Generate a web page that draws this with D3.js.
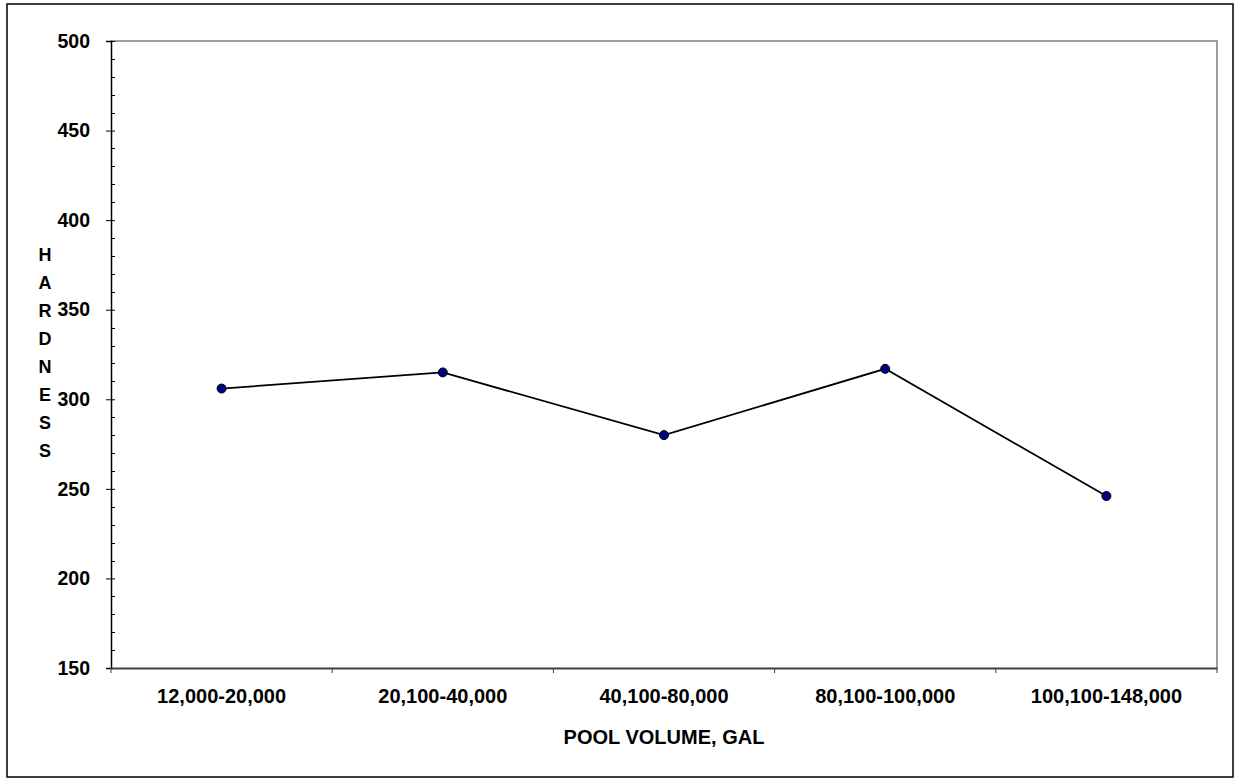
<!DOCTYPE html>
<html>
<head>
<meta charset="utf-8">
<script src="https://cdn.jsdelivr.net/npm/d3@7"></script>
<style>
html,body{margin:0;padding:0;background:#fff;}
svg{display:block;}
text{font-family:Arial,"Liberation Sans",sans-serif;font-weight:bold;fill:#000;}
</style>
</head>
<body>
<script>
const categories = ["12,000-20,000","20,100-40,000","40,100-80,000","80,100-100,000","100,100-148,000"];
const hardness = [306, 315, 280, 317, 246];
const yTicks = [150, 200, 250, 300, 350, 400, 450, 500];
const xTitle = "POOL VOLUME, GAL";
const yTitle = "HARDNESS";

const W = 1235, H = 778;
const m = {left: 111, right: 1217, top: 41, bottom: 668};

const svg = d3.select("body").append("svg").attr("width", W).attr("height", H);

// outer border
svg.append("rect").attr("x", 7).attr("y", 4).attr("width", 1226).attr("height", 773)
  .attr("fill", "#fff").attr("stroke", "#000").attr("stroke-width", 1.5);

const x = d3.scaleBand().domain(categories).range([m.left, m.right]);
const y = d3.scaleLinear().domain([150, 500]).range([m.bottom, m.top]);

// plot area top/right border
svg.append("path")
  .attr("d", `M${m.left},${m.top}H${m.right}V${m.bottom}`)
  .attr("fill", "none").attr("stroke", "#808080").attr("stroke-width", 1.5);

// minor ticks (inside)
const minor = d3.range(150, 501, 10).filter(v => v % 50 !== 0);
svg.append("g").selectAll("line").data(minor).join("line")
  .attr("x1", m.left).attr("x2", m.left + 4)
  .attr("y1", d => Math.round(y(d)) + 0.5).attr("y2", d => Math.round(y(d)) + 0.5)
  .attr("stroke", "#000").attr("stroke-width", 1);

// y axis
const yAxis = svg.append("g").attr("transform", `translate(${m.left},0)`)
  .call(d3.axisLeft(y).tickValues(yTicks).tickSize(5).tickPadding(16).tickFormat(d3.format("d")));
yAxis.select(".domain").attr("stroke", "#000").attr("stroke-width", 1.5);
yAxis.selectAll(".tick line").attr("x2", 4).attr("x1", -5).attr("stroke", "#000");
yAxis.selectAll(".tick text").attr("font-size", 19.5).attr("font-family", "Arial, 'Liberation Sans', sans-serif").attr("font-weight", "bold").attr("fill", "#000");

// x axis
const bounds = categories.map(c => x(c)).concat([m.right]);
const xAxis = svg.append("g").attr("transform", `translate(0,${m.bottom})`)
  .call(d3.axisBottom(x).tickSize(0).tickPadding(21));
xAxis.select(".domain").attr("stroke", "#404040").attr("stroke-width", 2);
xAxis.selectAll(".tick text").attr("font-size", 20).attr("font-family", "Arial, 'Liberation Sans', sans-serif").attr("font-weight", "bold").attr("fill", "#000");
svg.append("g").selectAll("line").data(bounds).join("line")
  .attr("x1", d => d).attr("x2", d => d).attr("y1", m.bottom).attr("y2", m.bottom + 5)
  .attr("stroke", "#404040").attr("stroke-width", 1);

// x title
svg.append("text").attr("x", (m.left + m.right) / 2).attr("y", 744)
  .attr("text-anchor", "middle").attr("font-size", 20).text(xTitle);

// y title stacked letters
svg.append("g").selectAll("text").data(yTitle.split("")).join("text")
  .attr("x", 45).attr("y", (d, i) => 261 + i * 28)
  .attr("text-anchor", "middle").attr("font-size", 18).text(d => d);

// line
const line = d3.line().x((d, i) => x(categories[i]) + x.bandwidth() / 2).y(d => y(d));
svg.append("path").datum(hardness).attr("d", line)
  .attr("fill", "none").attr("stroke", "#000").attr("stroke-width", 1.8);

// markers
svg.append("g").selectAll("circle").data(hardness).join("circle")
  .attr("cx", (d, i) => x(categories[i]) + x.bandwidth() / 2)
  .attr("cy", d => y(d)).attr("r", 4.5)
  .attr("fill", "#000080").attr("stroke", "#000").attr("stroke-width", 1);
</script>
</body>
</html>
